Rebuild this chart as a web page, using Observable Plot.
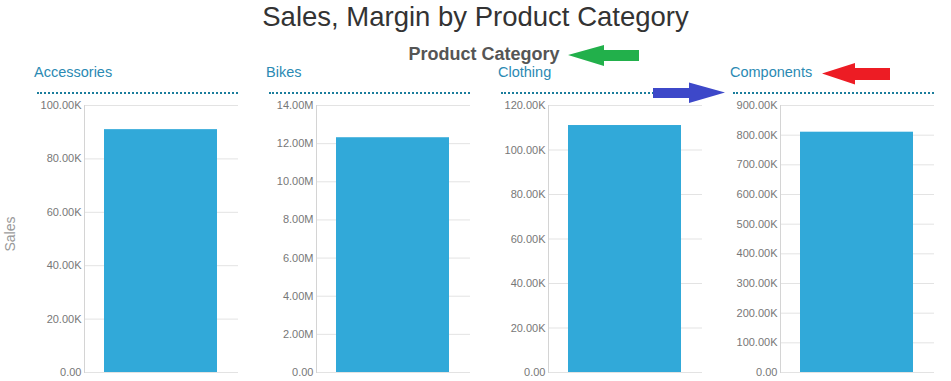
<!DOCTYPE html>
<html>
<head>
<meta charset="utf-8">
<script src="https://cdn.jsdelivr.net/npm/d3@7"></script>
<script src="https://cdn.jsdelivr.net/npm/@observablehq/plot@0.6"></script>
<style>
  html, body { margin: 0; padding: 0; background: #fff; }
  body { font-family: "Liberation Sans", Arial, sans-serif; }
  #root { position: relative; width: 951px; height: 381px; overflow: hidden; }
  .abs { position: absolute; }
  #title { left: 0; width: 951px; top: 1px; text-align: center; font-size: 27.5px; color: #333; white-space: nowrap; }
  #subtitle { left: 384px; width: 200px; top: 44px; text-align: center; font-size: 18px; font-weight: bold; color: #555; white-space: nowrap; }
  .facet-title { font-size: 14.5px; color: #2b8ab3; white-space: nowrap; }
  .facet-rule { height: 0; border-top: 2px dotted #1b7d9c; }
  #ylabel { left: -20px; top: 226px; width: 60px; text-align: center; font-size: 14px; color: #999; transform: rotate(-90deg); }
</style>
</head>
<body>
<div id="root">
  <div id="title" class="abs">Sales, Margin by Product Category</div>
  <div id="subtitle" class="abs">Product Category</div>
  <div id="ylabel" class="abs">Sales</div>
</div>
<script>
// ---- data ----
const categories = ["Accessories", "Bikes", "Clothing", "Components"];
const sales = [90960, 12310000, 111000, 810000];
const yMax = [100000, 14000000, 120000, 900000];
const yTicks = [
  [0, 20000, 40000, 60000, 80000, 100000],
  [0, 2000000, 4000000, 6000000, 8000000, 10000000, 12000000, 14000000],
  [0, 20000, 40000, 60000, 80000, 100000, 120000],
  [0, 100000, 200000, 300000, 400000, 500000, 600000, 700000, 800000, 900000]
];
const seriesName = "Sales";

const fmt = v => v === 0 ? "0.00" : (v >= 1e6 ? (v / 1e6).toFixed(2) + "M" : (v / 1e3).toFixed(2) + "K");

const root = document.getElementById("root");
const panelStep = 232;

categories.forEach((cat, i) => {
  const left = i * panelStep;
  const t = document.createElement("div");
  t.className = "abs facet-title";
  t.style.left = (left + 34) + "px";
  t.style.top = "64px";
  t.textContent = cat;
  root.appendChild(t);

  const r = document.createElement("div");
  r.className = "abs facet-rule";
  r.style.left = (left + 37) + "px";
  r.style.width = "201px";
  r.style.top = "92px";
  root.appendChild(r);

  const data = [{cat, value: sales[i]}];
  const chart = Plot.plot({
    width: 238,
    height: 285,
    marginLeft: 84,
    marginRight: 0,
    marginTop: 10,
    marginBottom: 8,
    style: {fontFamily: "'Liberation Sans', Arial, sans-serif", fontSize: "11px", background: "transparent", overflow: "visible"},
    x: {type: "band", domain: [cat], padding: 0.15, axis: null},
    y: {domain: [0, yMax[i]], axis: null},
    marks: [
      Plot.gridY(yTicks[i], {stroke: "#e3e3e3", strokeOpacity: 1}),
      Plot.barY(data, {x: "cat", y: "value", fill: "#31a9d9"}),
      Plot.frame({anchor: "left", stroke: "#d4d4d4"}),
      Plot.axisY(yTicks[i], {tickSize: 0, tickPadding: 3, tickFormat: fmt, fill: "#777", label: null})
    ]
  });
  chart.style.position = "absolute";
  chart.style.left = left + "px";
  chart.style.top = "95px";
  root.appendChild(chart);
});

// annotation arrows
const ns = "http://www.w3.org/2000/svg";
const arrows = document.createElementNS(ns, "svg");
arrows.setAttribute("width", 951);
arrows.setAttribute("height", 381);
arrows.style.position = "absolute";
arrows.style.left = "0px";
arrows.style.top = "0px";
arrows.style.pointerEvents = "none";
const arrowDefs = [
  {pts: "568,55 604,45 604,50 639,50 639,61 604,61 604,66", fill: "#22b04b"},
  {pts: "725,92.5 689,82.5 689,88 653,88 653,98 689,98 689,103", fill: "#3d48c9"},
  {pts: "822,73.5 855,63 855,68 890,68 890,80 855,80 855,84.5", fill: "#ed1c24"}
];
arrowDefs.forEach(a => {
  const p = document.createElementNS(ns, "polygon");
  p.setAttribute("points", a.pts);
  p.setAttribute("fill", a.fill);
  arrows.appendChild(p);
});
root.appendChild(arrows);
</script>
</body>
</html>
